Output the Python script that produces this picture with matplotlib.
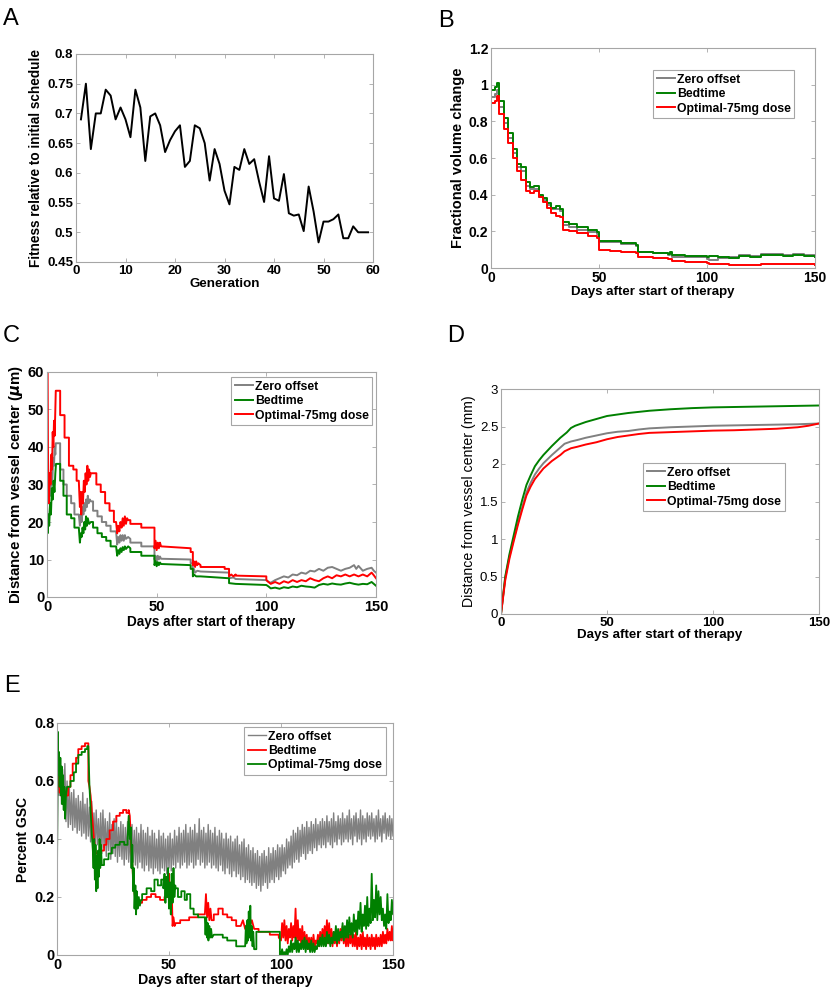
import matplotlib
matplotlib.use('Agg')
import matplotlib.pyplot as plt
from matplotlib.ticker import FuncFormatter, MultipleLocator
import numpy as np

plt.rcParams['font.family'] = ['Liberation Sans', 'DejaVu Sans']
plt.rcParams['font.weight'] = 'bold'
plt.rcParams['axes.labelweight'] = 'bold'

GRAY = '#808080'
GREEN = '#008000'
RED = '#ff0000'

# ---- panel A: fitness per generation
a_gen = list(range(1, 60))
a_fit = [0.69, 0.75, 0.64, 0.70, 0.70, 0.74, 0.73, 0.69, 0.71, 0.69,
         0.66, 0.74, 0.71, 0.62, 0.695, 0.70, 0.68, 0.635, 0.655, 0.67,
         0.68, 0.61, 0.62, 0.68, 0.675, 0.65, 0.587, 0.64, 0.615, 0.57,
         0.547, 0.61, 0.605, 0.64, 0.615, 0.623, 0.585, 0.551, 0.628, 0.557,
         0.553, 0.598, 0.532, 0.528, 0.53, 0.502, 0.577, 0.535, 0.483, 0.518,
         0.518, 0.522, 0.53, 0.49, 0.49, 0.51, 0.50, 0.50, 0.50]

# ---- panel B: fractional volume change (step curves)
b_days = [0, 2, 3, 3.8, 5.8, 8, 10, 12, 14, 16, 18, 20, 22, 24, 26, 28, 30, 32, 33.5, 36,
          40, 45, 49, 50, 55, 60, 67, 68, 75, 82, 83, 84, 90, 100, 101, 105, 110, 115, 120, 125,
          130, 135, 140, 145, 150]
b_bed = [0.97, 0.99, 1.01, 0.91, 0.82, 0.735, 0.65, 0.57, 0.55, 0.47,
         0.44, 0.45, 0.40, 0.38, 0.355, 0.33, 0.34, 0.32, 0.25, 0.24,
         0.225, 0.205, 0.195, 0.15, 0.145, 0.135, 0.125, 0.09, 0.083, 0.078,
         0.09, 0.07, 0.065, 0.06, 0.068, 0.058, 0.055, 0.065, 0.06, 0.07,
         0.072, 0.068, 0.07, 0.065, 0.06]
b_zero = [0.93, 0.95, 0.97, 0.88, 0.79, 0.71, 0.63, 0.55, 0.53, 0.45,
          0.43, 0.43, 0.39, 0.37, 0.345, 0.32, 0.32, 0.31, 0.235, 0.225,
          0.21, 0.195, 0.185, 0.14, 0.14, 0.13, 0.12, 0.085, 0.08, 0.07,
          0.075, 0.06, 0.06, 0.05, 0.045, 0.055, 0.06, 0.07, 0.065, 0.075,
          0.075, 0.07, 0.075, 0.07, 0.065]
b_opt_days = [0, 2, 3, 3.8, 5.8, 8, 10, 12, 14, 16, 18, 20, 22, 24, 26, 28, 30, 32, 33.5, 36,
              40, 45, 49, 50, 55, 60, 67, 68, 75, 82, 84, 90, 100, 101, 105, 110, 115, 120, 125, 130,
              135, 140, 145, 150]
b_opt = [0.90, 0.91, 0.94, 0.84, 0.76, 0.68, 0.60, 0.53, 0.48, 0.42,
         0.41, 0.42, 0.39, 0.36, 0.33, 0.30, 0.285, 0.28, 0.21, 0.20,
         0.19, 0.175, 0.165, 0.10, 0.095, 0.09, 0.08, 0.06, 0.055, 0.05,
         0.04, 0.035, 0.03, 0.022, 0.02, 0.018, 0.018, 0.015, 0.02, 0.02,
         0.02, 0.022, 0.02, 0.018]

# ---- panel C: distance from vessel center (um), (day, value)
c_zero = [(0, 28), (0.3, 35), (0.7, 25), (1.2, 30), (1.6, 27), (2.0, 33), (2.4, 30), (2.8, 37),
          (3.2, 35), (3.5, 40), (3.8, 38), (4.0, 41), (6.0, 41), (6.0, 34), (7.5, 34), (7.5, 30),
          (9.0, 30), (9.0, 27), (11.0, 27), (11.0, 25), (12.5, 25), (12.5, 22), (14.5, 22), (15.0, 19),
          (15.4, 22), (15.8, 20), (16.2, 24), (16.6, 22), (17.0, 25), (17.4, 23), (17.8, 26), (18.2, 24),
          (18.6, 27), (19.0, 25), (19.5, 26), (20.0, 25.5), (21, 25.5), (21, 23), (23, 23), (23, 21.5),
          (25, 21.5), (25, 20), (27, 20), (27, 19), (29, 19), (29, 17.5), (31.5, 17.5), (32, 14),
          (32.5, 16), (33, 14.5), (33.5, 16.5), (34, 15), (34.5, 16.5), (35, 15), (35.5, 16.5), (36, 15.5),
          (37, 16), (38, 15.5), (38, 14.5), (43, 14.5), (43, 13.5), (49, 13.5), (49, 10), (49.5, 11),
          (50, 9.5), (50.5, 11), (51, 10), (51.5, 10.8), (52, 10.2), (65.5, 10), (65.5, 9), (66.5, 9),
          (66.5, 6.5), (67, 7.5), (67.5, 6.5), (68.5, 7), (70, 6.8), (83, 6.5), (83, 5), (85, 5.2),
          (86, 4.8), (100, 4.5), (101, 4), (102, 3.8), (104, 4.5), (106, 5), (108, 5.5), (110, 5.2),
          (112, 6), (114, 5.8), (116, 6.5), (118, 6.2), (120, 7), (122, 6.8), (124, 7.5), (126, 7),
          (128, 7.8), (130, 8), (132, 7.5), (134, 7), (136, 7.5), (138, 7.8), (140, 8.5), (141, 7.5),
          (142, 8.3), (144, 7), (146, 7.5), (148, 7.8), (149, 7), (150, 6.5)]
c_bed = [(0, 25), (0.3, 17), (0.7, 22), (1.0, 19), (1.4, 25), (1.8, 22), (2.2, 29), (2.6, 26),
         (3.0, 31), (3.4, 28), (3.8, 33), (4.1, 35.5), (6.0, 35.5), (6.0, 31), (7.5, 31), (7.5, 27),
         (9.0, 27), (9.0, 22), (11.0, 22), (11.0, 21), (12.5, 21), (12.5, 18.5), (14.5, 18.5), (15.0, 14.5),
         (15.4, 17), (15.8, 16), (16.2, 18.5), (16.6, 17), (17.0, 20), (17.4, 18), (17.8, 21.5), (18.2, 19),
         (18.6, 21), (19.2, 19.5), (20, 20), (21, 20), (21, 18.5), (23, 18.5), (23, 17), (25, 17),
         (25, 16), (27, 16), (27, 15), (29, 15), (29, 13.5), (31.5, 13.5), (32, 11), (32.5, 12.5),
         (33, 11.5), (33.5, 13), (34, 12), (34.5, 13.3), (35, 12.5), (35.5, 13.5), (36, 12.8), (37, 13.5),
         (38, 13), (38, 12), (43, 12), (43, 11), (49, 11), (49, 8.5), (49.5, 9.5), (50, 8.2),
         (50.5, 9.3), (51, 8.5), (51.5, 9.2), (52, 8.8), (65.5, 8.5), (65.5, 7.5), (66.5, 7.5), (66.5, 5.5),
         (67, 6), (68, 5.5), (70, 5.5), (83, 5), (83, 3.7), (86, 3.5), (100, 3.2), (101, 2.8),
         (102, 2.3), (104, 2.5), (106, 2.2), (108, 2.6), (110, 2.4), (112, 2.8), (114, 2.6), (116, 3),
         (118, 2.8), (120, 2.7), (122, 2.5), (124, 3.2), (126, 3.5), (128, 3.3), (130, 3.6), (132, 3.4),
         (134, 3.3), (136, 3.6), (138, 3.8), (140, 3.5), (142, 3.3), (144, 3.5), (146, 3.4), (148, 4),
         (149, 3.5), (150, 3)]
c_opt = [(0, 30), (0.15, 60), (0.4, 40), (0.8, 25), (1.2, 33), (1.6, 30), (2.0, 38), (2.3, 34),
         (2.6, 44), (2.9, 40), (3.2, 47), (3.5, 43), (3.8, 50), (4.0, 55), (6.0, 55), (6.0, 48.5),
         (8.0, 48.5), (8.0, 42.5), (10.0, 42.5), (10.0, 35), (12.0, 35), (12.0, 34), (13.5, 34), (13.5, 31),
         (14.5, 31), (15.0, 24), (15.3, 28), (15.6, 22), (16.0, 28), (16.4, 25), (16.8, 31), (17.2, 28),
         (17.6, 33), (18.0, 30), (18.4, 35), (18.8, 31), (19.2, 34), (19.6, 32), (20.0, 33), (22.5, 33),
         (22.5, 30), (24.5, 30), (24.5, 28), (26.5, 28), (26.5, 25), (28.5, 25), (28.5, 23), (30.5, 23),
         (30.5, 20), (31.5, 20), (32.0, 17), (32.5, 19), (33.0, 17.5), (33.5, 20), (34.0, 18.5), (34.5, 21),
         (35.0, 19), (35.5, 21.5), (36.0, 19.5), (36.5, 21), (37.0, 20.5), (38.0, 20.5), (38.0, 19.5), (43.0, 19.5),
         (43.0, 18.5), (49.0, 18.5), (49.0, 13), (49.5, 15), (50.0, 12.5), (50.5, 14.5), (51.0, 13), (51.5, 14.5),
         (52.0, 13.5), (65.5, 13), (65.5, 12), (66.5, 12), (66.5, 8.5), (67, 9.5), (67.5, 8), (68, 9.5),
         (68.5, 8.5), (69, 9), (70, 8.5), (70, 8), (81, 8), (81, 7.5), (83, 7.5), (83, 5.5),
         (84, 6), (85, 5.5), (86, 6), (86, 5.7), (100, 5.5), (100, 4.5), (101, 4), (102, 3.5),
         (104, 4), (106, 3.5), (108, 4.2), (110, 3.8), (112, 4.5), (114, 4), (116, 4.5), (118, 4.2),
         (120, 5), (122, 4.5), (124, 4.2), (126, 5), (128, 5.5), (130, 5), (132, 5.8), (134, 5.5),
         (136, 6), (138, 5.5), (140, 6), (142, 5.5), (144, 6), (146, 5.5), (148, 6.5), (149, 5.8), (150, 5)]

# ---- panel D: distance from vessel center (mm)
d_zero = [(0, 0), (2, 0.48), (4, 0.77), (6, 1.0), (8, 1.22), (10, 1.42), (12, 1.62), (14, 1.75),
          (16, 1.86), (18, 1.94), (20, 2.01), (24, 2.12), (28, 2.22), (30, 2.27), (33, 2.3), (36, 2.32),
          (40, 2.35), (45, 2.38), (50, 2.41), (55, 2.43), (60, 2.44), (65, 2.46), (70, 2.475), (80, 2.49),
          (90, 2.5), (100, 2.51), (110, 2.515), (120, 2.52), (130, 2.525), (140, 2.53), (150, 2.54)]
d_bed = [(0, 0), (2, 0.5), (4, 0.8), (6, 1.05), (8, 1.3), (10, 1.52), (12, 1.72), (14, 1.85),
         (16, 1.97), (18, 2.05), (20, 2.12), (24, 2.24), (28, 2.35), (31, 2.42), (33, 2.48), (35, 2.51),
         (40, 2.56), (45, 2.6), (50, 2.64), (55, 2.66), (60, 2.68), (65, 2.695), (70, 2.71), (80, 2.73),
         (90, 2.745), (100, 2.755), (110, 2.76), (120, 2.765), (130, 2.77), (140, 2.775), (150, 2.78)]
d_opt = [(0, 0), (2, 0.45), (4, 0.74), (6, 0.97), (8, 1.19), (10, 1.39), (12, 1.58), (14, 1.7),
         (16, 1.8), (18, 1.87), (20, 1.94), (24, 2.04), (28, 2.12), (30, 2.17), (33, 2.21), (36, 2.23),
         (40, 2.26), (45, 2.29), (50, 2.33), (55, 2.36), (60, 2.38), (65, 2.4), (70, 2.415), (80, 2.425),
         (90, 2.435), (100, 2.445), (110, 2.45), (120, 2.46), (130, 2.47), (140, 2.49), (145, 2.51), (150, 2.54)]

# ---- panel E: percent GSC
# zero offset: daily upper / lower edge of the noisy trace, days 0..150
e_zero_hi = [0.66, 0.68, 0.64, 0.66, 0.60, 0.58, 0.56, 0.57, 0.54, 0.55,
             0.53, 0.56, 0.52, 0.54, 0.51, 0.53, 0.49, 0.50, 0.47, 0.49,
             0.50, 0.47, 0.46, 0.49, 0.45, 0.47, 0.48, 0.44, 0.46, 0.45,
             0.44, 0.46, 0.43, 0.45, 0.43, 0.44, 0.42, 0.45, 0.43, 0.42,
             0.44, 0.41, 0.43, 0.42, 0.40, 0.43, 0.41, 0.42, 0.40, 0.41,
             0.42, 0.40, 0.43, 0.41, 0.44, 0.42, 0.43, 0.45, 0.42, 0.44,
             0.43, 0.45, 0.42, 0.47, 0.43, 0.44, 0.42, 0.45, 0.43, 0.42,
             0.44, 0.41, 0.43, 0.42, 0.40, 0.42, 0.40, 0.41, 0.39, 0.40,
             0.41, 0.38, 0.39, 0.40, 0.37, 0.38, 0.36, 0.37, 0.35, 0.36,
             0.34, 0.35, 0.36, 0.34, 0.37, 0.35, 0.37, 0.36, 0.38, 0.37,
             0.38, 0.37, 0.40, 0.39, 0.41, 0.43, 0.42, 0.44, 0.43, 0.45,
             0.44, 0.46, 0.44, 0.46, 0.45, 0.47, 0.45, 0.46, 0.47, 0.46,
             0.48, 0.46, 0.47, 0.49, 0.46, 0.48, 0.47, 0.49, 0.47, 0.48,
             0.50, 0.47, 0.48, 0.49, 0.47, 0.50, 0.48, 0.47, 0.49, 0.48,
             0.49, 0.47, 0.48, 0.50, 0.47, 0.48, 0.49, 0.47, 0.48, 0.47,
             0.46]
e_zero_lo = [0.25, 0.55, 0.52, 0.50, 0.46, 0.44, 0.45, 0.43, 0.44, 0.42,
             0.43, 0.41, 0.42, 0.40, 0.41, 0.39, 0.38, 0.37, 0.38, 0.36,
             0.35, 0.37, 0.34, 0.36, 0.33, 0.35, 0.34, 0.32, 0.34, 0.33,
             0.31, 0.33, 0.32, 0.30, 0.32, 0.31, 0.30, 0.32, 0.30, 0.29,
             0.31, 0.29, 0.30, 0.28, 0.30, 0.29, 0.28, 0.30, 0.29, 0.28,
             0.30, 0.29, 0.31, 0.30, 0.32, 0.30, 0.31, 0.32, 0.30, 0.31,
             0.32, 0.30, 0.31, 0.33, 0.31, 0.32, 0.30, 0.31, 0.32, 0.30,
             0.31, 0.30, 0.29, 0.31, 0.29, 0.28, 0.30, 0.28, 0.27, 0.29,
             0.27, 0.28, 0.26, 0.27, 0.25, 0.26, 0.25, 0.24, 0.25, 0.23,
             0.24, 0.22, 0.24, 0.25, 0.23, 0.25, 0.26, 0.25, 0.27, 0.26,
             0.27, 0.29, 0.28, 0.30, 0.31, 0.30, 0.32, 0.33, 0.32, 0.34,
             0.35, 0.33, 0.35, 0.36, 0.35, 0.37, 0.36, 0.38, 0.37, 0.38,
             0.37, 0.39, 0.38, 0.37, 0.39, 0.38, 0.40, 0.38, 0.39, 0.40,
             0.39, 0.40, 0.38, 0.41, 0.39, 0.40, 0.38, 0.40, 0.39, 0.41,
             0.40, 0.41, 0.39, 0.40, 0.41, 0.39, 0.42, 0.40, 0.41, 0.40,
             0.41]

# bedtime, days 0..100 as (day, value), then daily upper/lower edges for days 100..150
e_bed = [(0, 0.62), (0.3, 0.66), (0.6, 0.58), (0.9, 0.64), (1.2, 0.56), (1.5, 0.62), (1.8, 0.55), (2.1, 0.6),
         (2.5, 0.55), (3, 0.58), (3.5, 0.55), (5, 0.55), (5, 0.58), (6, 0.58), (6, 0.62), (7, 0.62),
         (7, 0.66), (8.5, 0.66), (8.5, 0.68), (9.5, 0.68), (9.5, 0.71), (11, 0.71), (11, 0.72), (12.5, 0.72),
         (12.5, 0.73), (14, 0.73), (14, 0.60), (14.5, 0.58), (15, 0.55), (15.5, 0.50), (16, 0.45), (16.5, 0.40),
         (17, 0.37), (17.5, 0.35), (19, 0.35), (19, 0.36), (21, 0.36), (21, 0.38), (22, 0.38), (22, 0.40),
         (23.5, 0.40), (23.5, 0.43), (25, 0.43), (25, 0.46), (26.5, 0.46), (26.5, 0.48), (28, 0.48), (28, 0.49),
         (29.5, 0.49), (29.5, 0.50), (31, 0.50), (31, 0.49), (32, 0.49), (32, 0.50), (32.5, 0.48), (33, 0.40),
         (33.5, 0.33), (34, 0.26), (34.5, 0.22), (35, 0.19), (36, 0.18), (38, 0.18), (38, 0.19), (40, 0.19),
         (40, 0.20), (42, 0.20), (42, 0.21), (44, 0.21), (44, 0.20), (46, 0.20), (46, 0.19), (48, 0.19),
         (48, 0.20), (49.5, 0.20), (50, 0.28), (50.3, 0.18), (50.6, 0.25), (51, 0.14), (51.3, 0.20), (51.6, 0.10),
         (52, 0.13), (52.5, 0.10), (53, 0.11), (55, 0.11), (55, 0.12), (59, 0.12), (59, 0.13), (63, 0.13),
         (63, 0.14), (66, 0.14), (66.5, 0.21), (67, 0.13), (67.5, 0.18), (68, 0.12), (68.5, 0.16), (69, 0.12),
         (70, 0.12), (70, 0.14), (72, 0.14), (72, 0.16), (74, 0.16), (74, 0.14), (76, 0.14), (76, 0.13),
         (78, 0.13), (78, 0.12), (80, 0.12), (80, 0.10), (82, 0.10), (83, 0.12), (84, 0.09), (85, 0.11),
         (86, 0.10), (87, 0.12), (88, 0.09), (90, 0.09), (90, 0.08), (95, 0.08), (95, 0.07), (99, 0.07),
         (99, 0.06)]
e_bed_tail_hi = [0.11, 0.12, 0.10, 0.09, 0.11, 0.10, 0.16, 0.12, 0.09, 0.10,
                 0.08, 0.07, 0.06, 0.06, 0.07, 0.05, 0.07, 0.08, 0.09, 0.10,
                 0.12, 0.11, 0.09, 0.08, 0.07, 0.08, 0.09, 0.10, 0.09, 0.08,
                 0.07, 0.08, 0.07, 0.08, 0.06, 0.07, 0.08, 0.06, 0.07, 0.06,
                 0.07, 0.06, 0.07, 0.06, 0.07, 0.08, 0.07, 0.09, 0.08, 0.10,
                 0.08]
e_bed_tail_lo = [0.05, 0.06, 0.05, 0.04, 0.06, 0.05, 0.06, 0.04, 0.05, 0.04,
                 0.03, 0.03, 0.02, 0.03, 0.02, 0.03, 0.04, 0.03, 0.04, 0.05,
                 0.05, 0.04, 0.04, 0.03, 0.04, 0.03, 0.04, 0.05, 0.04, 0.03,
                 0.03, 0.04, 0.03, 0.03, 0.02, 0.03, 0.02, 0.03, 0.02, 0.03,
                 0.02, 0.03, 0.02, 0.03, 0.03, 0.03, 0.04, 0.04, 0.05, 0.05,
                 0.05]

e_opt = [(0, 0.25), (0.3, 0.77), (0.6, 0.62), (0.9, 0.70), (1.2, 0.58), (1.5, 0.68), (1.8, 0.55), (2.1, 0.65),
         (2.4, 0.52), (2.7, 0.62), (3.0, 0.50), (3.3, 0.58), (3.6, 0.47), (4.0, 0.55), (4.5, 0.58), (6, 0.58),
         (6, 0.60), (7.5, 0.60), (7.5, 0.63), (8.5, 0.63), (8.5, 0.66), (9.5, 0.66), (9.5, 0.69), (11, 0.69),
         (11, 0.70), (12.5, 0.70), (12.5, 0.71), (13.5, 0.71), (13.5, 0.72), (14, 0.72), (14.5, 0.58), (15, 0.50),
         (15.5, 0.42), (16, 0.36), (16.3, 0.30), (16.6, 0.40), (16.9, 0.26), (17.2, 0.38), (17.5, 0.22), (17.8, 0.34),
         (18.1, 0.23), (18.4, 0.36), (18.7, 0.27), (19, 0.40), (19.3, 0.30), (19.6, 0.38), (20, 0.31), (21, 0.31),
         (21, 0.33), (23, 0.33), (23, 0.35), (24.5, 0.35), (24.5, 0.37), (26, 0.37), (26, 0.38), (28, 0.38),
         (28, 0.39), (30, 0.39), (30, 0.38), (31.5, 0.38), (31.5, 0.40), (32, 0.48), (32.5, 0.40), (33, 0.44),
         (33.3, 0.30), (33.6, 0.38), (34, 0.22), (34.3, 0.30), (34.6, 0.16), (35, 0.24), (35.3, 0.14), (35.6, 0.22),
         (36, 0.16), (36.5, 0.20), (37, 0.17), (37.5, 0.19), (38, 0.19), (38, 0.21), (40, 0.21), (40, 0.23),
         (42, 0.23), (42, 0.22), (43.5, 0.22), (43.5, 0.26), (45, 0.26), (45, 0.24), (46.5, 0.24), (46.5, 0.26),
         (47.5, 0.26), (47.5, 0.23), (48, 0.28), (48.4, 0.18), (48.8, 0.27), (49.2, 0.20), (49.6, 0.30), (50, 0.16),
         (50.4, 0.25), (50.8, 0.14), (51.2, 0.28), (51.6, 0.18), (52, 0.30), (52.4, 0.20), (52.8, 0.24), (53, 0.23),
         (54, 0.23), (54, 0.20), (55.5, 0.20), (55.5, 0.22), (57, 0.22), (57, 0.19), (58, 0.19), (58, 0.21),
         (59.5, 0.21), (59.5, 0.16), (61, 0.16), (61, 0.14), (63, 0.14), (63, 0.13), (66, 0.13), (66.3, 0.07),
         (66.6, 0.13), (67, 0.06), (67.3, 0.11), (67.6, 0.05), (68, 0.10), (68.4, 0.06), (68.8, 0.09), (69.2, 0.06),
         (70, 0.07), (74, 0.07), (74, 0.06), (76, 0.06), (76, 0.05), (80, 0.05), (80, 0.03), (84, 0.03),
         (84.3, 0.10), (84.6, 0.04), (85, 0.12), (85.3, 0.05), (85.6, 0.15), (86, 0.06), (86.3, 0.17), (86.6, 0.05),
         (87, 0.10), (87.3, 0.03), (87.6, 0.08), (88, 0.02), (89, 0.02), (89, 0.08), (99, 0.08), (99.5, 0.08),
         (99.5, 0.0)]
e_opt_tail_hi = [0.02, 0.01, 0.02, 0.03, 0.05, 0.04, 0.06, 0.05, 0.04, 0.05,
                 0.06, 0.05, 0.04, 0.05, 0.04, 0.03, 0.05, 0.06, 0.07, 0.06,
                 0.08, 0.07, 0.06, 0.08, 0.10, 0.09, 0.08, 0.11, 0.10, 0.12,
                 0.13, 0.11, 0.14, 0.12, 0.15, 0.18, 0.14, 0.17, 0.20, 0.16,
                 0.28, 0.19, 0.24, 0.22, 0.20, 0.16, 0.14, 0.21, 0.15, 0.19,
                 0.18]
e_opt_tail_lo = [0.00, 0.00, 0.00, 0.00, 0.01, 0.01, 0.02, 0.01, 0.01, 0.02,
                 0.02, 0.01, 0.02, 0.01, 0.01, 0.01, 0.02, 0.03, 0.03, 0.03,
                 0.03, 0.04, 0.03, 0.04, 0.05, 0.04, 0.05, 0.06, 0.05, 0.06,
                 0.06, 0.07, 0.06, 0.08, 0.07, 0.09, 0.08, 0.10, 0.09, 0.10,
                 0.11, 0.12, 0.13, 0.12, 0.14, 0.12, 0.10, 0.09, 0.11, 0.12,
                 0.14]

labels_b = ['Zero offset', 'Bedtime', 'Optimal-75mg dose']


def zigzag(start_day, lo, hi):
    # alternate between the lower and upper edge read for each day
    xs, ys = [], []
    for i, (l, h) in enumerate(zip(lo, hi)):
        xs += [start_day + i, start_day + i + 0.5]
        ys += [l, h]
    return xs, ys


def style(ax, size, tickweight='bold'):
    for s in ax.spines.values():
        s.set_color('#a6a6a6')
        s.set_linewidth(0.8)
    ax.tick_params(direction='in', length=3, width=0.6, color='#a6a6a6',
                   top=True, right=True, labelsize=size, pad=2)
    for lab in ax.get_xticklabels() + ax.get_yticklabels():
        lab.set_fontweight(tickweight)
    ax.xaxis.set_major_formatter(FuncFormatter(lambda v, p: '%g' % v))
    ax.yaxis.set_major_formatter(FuncFormatter(lambda v, p: '%g' % v))


def legend(ax, anchor):
    leg = ax.legend(loc='upper left', bbox_to_anchor=anchor, fontsize=8.8,
                    handlelength=1.5, handletextpad=0.15, labelspacing=0.2,
                    borderpad=0.3, borderaxespad=0, fancybox=False, framealpha=1)
    leg.get_frame().set_edgecolor('#a6a6a6')
    leg.get_frame().set_linewidth(0.8)
    for t in leg.get_texts():
        t.set_fontweight('bold')


W, H = 833, 998
fig = plt.figure(figsize=(W / 100, H / 100), dpi=100)


def add_axes(l, t, r, b):
    return fig.add_axes([l / W, 1 - b / H, (r - l) / W, (b - t) / H])


# A
ax = add_axes(76, 54, 373, 262)
ax.plot(a_gen, a_fit, color='black', lw=1.4)
ax.set_xlim(0, 60)
ax.set_ylim(0.45, 0.8)
ax.xaxis.set_major_locator(MultipleLocator(10))
ax.yaxis.set_major_locator(MultipleLocator(0.05))
style(ax, 9.5)
ax.set_xlabel('Generation', fontsize=9.6, labelpad=1)
ax.set_ylabel('Fitness relative to initial schedule', fontsize=9.8, labelpad=3)

# B
ax = add_axes(491, 48, 815, 268)
ax.plot(b_days, b_zero, color=GRAY, lw=1.4, drawstyle='steps-post', label=labels_b[0])
ax.plot(b_days, b_bed, color=GREEN, lw=1.4, drawstyle='steps-post', label=labels_b[1])
ax.plot(b_opt_days, b_opt, color=RED, lw=1.4, drawstyle='steps-post', label=labels_b[2])
ax.set_xlim(0, 150)
ax.set_ylim(0, 1.2)
ax.xaxis.set_major_locator(MultipleLocator(50))
ax.yaxis.set_major_locator(MultipleLocator(0.2))
style(ax, 10)
legend(ax, (0.50, 0.90))
ax.set_xlabel('Days after start of therapy', fontsize=9.5, labelpad=1)
ax.set_ylabel('Fractional volume change', fontsize=10.5, labelpad=3)

# C
ax = add_axes(47, 372, 376, 597)
for data, col, lab in [(c_zero, GRAY, labels_b[0]), (c_bed, GREEN, labels_b[1]), (c_opt, RED, labels_b[2])]:
    xs, ys = zip(*data)
    ax.plot(xs, ys, color=col, lw=1.4, label=lab)
ax.set_xlim(0, 150)
ax.set_ylim(0, 60)
ax.xaxis.set_major_locator(MultipleLocator(50))
ax.yaxis.set_major_locator(MultipleLocator(10))
style(ax, 10.5)
legend(ax, (0.559, 0.978))
ax.set_xlabel('Days after start of therapy', fontsize=9.8, labelpad=1)
ax.set_ylabel(r'Distance from vessel center ($\mu$m)', fontsize=10.8, labelpad=2)

# D
ax = add_axes(501, 389, 819, 614)
for data, col, lab in [(d_zero, GRAY, labels_b[0]), (d_bed, GREEN, labels_b[1]), (d_opt, RED, labels_b[2])]:
    xs, ys = zip(*data)
    ax.plot(xs, ys, color=col, lw=1.4, label=lab)
ax.set_xlim(0, 150)
ax.set_ylim(0, 3)
ax.xaxis.set_major_locator(MultipleLocator(50))
ax.yaxis.set_major_locator(MultipleLocator(0.5))
style(ax, 9.5, tickweight='normal')
for lab in ax.get_xticklabels():
    lab.set_fontweight('bold')
legend(ax, (0.447, 0.671))
ax.tick_params(axis='x', pad=2)
ax.set_xlabel('Days after start of therapy', fontsize=9.6, labelpad=0.5)
ax.set_ylabel('Distance from vessel center (mm)', fontsize=10.2, fontweight='normal', labelpad=3)

# E
ax = add_axes(57, 723, 393, 955)
xs, ys = zigzag(0, e_zero_lo, e_zero_hi)
ax.plot(xs, ys, color=GRAY, lw=1.0, label='Zero offset')
xs, ys = zip(*e_bed)
tx, ty = zigzag(100, e_bed_tail_lo, e_bed_tail_hi)
ax.plot(list(xs) + tx, list(ys) + ty, color=RED, lw=1.3, label='Bedtime')
xs, ys = zip(*e_opt)
tx, ty = zigzag(100, e_opt_tail_lo, e_opt_tail_hi)
ax.plot(list(xs) + tx, list(ys) + ty, color=GREEN, lw=1.3, label='Optimal-75mg dose')
ax.set_xlim(0, 150)
ax.set_ylim(0, 0.8)
ax.xaxis.set_major_locator(MultipleLocator(50))
ax.yaxis.set_major_locator(MultipleLocator(0.2))
style(ax, 10.4)
legend(ax, (0.557, 0.983))
ax.set_xlabel('Days after start of therapy', fontsize=10.2, labelpad=1)
ax.set_ylabel('Percent GSC', fontsize=10, labelpad=3)

# panel letters
for letter, x, y in [('A', 3, 25), ('B', 438, 27), ('C', 3, 342), ('D', 447, 342), ('E', 4, 692)]:
    fig.text(x / W, 1 - y / H, letter, fontsize=17, fontweight='normal', va='baseline', ha='left')

fig.savefig('out.png', dpi=100)
